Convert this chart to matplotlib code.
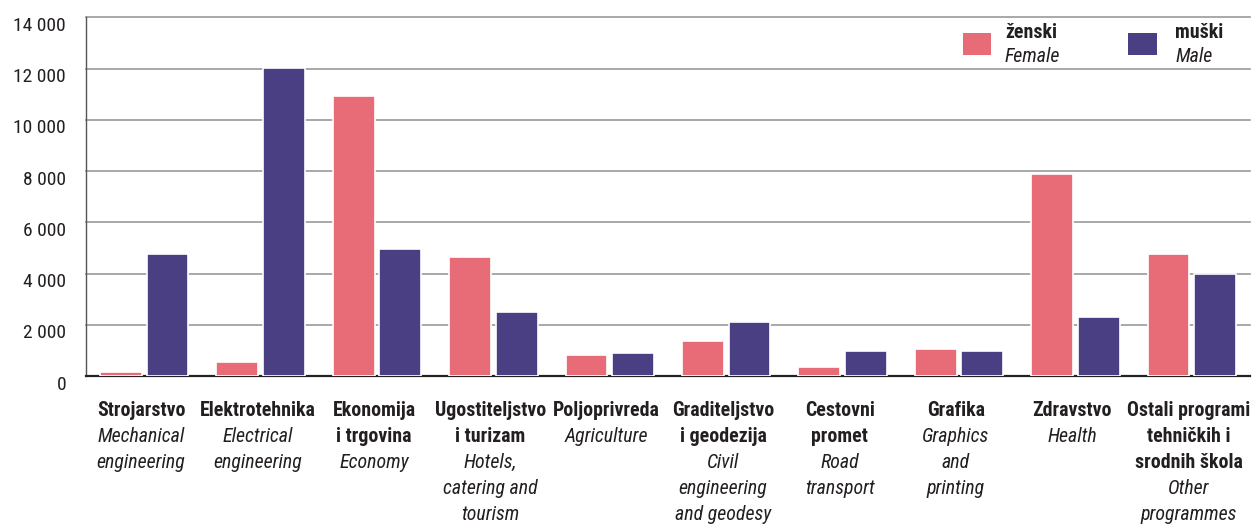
#!/usr/bin/env python3

import numpy as np
import matplotlib.pyplot as plt
import matplotlib.transforms as mtransforms
from matplotlib.patches import Rectangle

plt.rcParams["font.family"] = ["Roboto Condensed", "Roboto", "DejaVu Sans"]
plt.rcParams["font.stretch"] = "condensed"

# Učenici po programima / spolu
programi_hr = [
    "Strojarstvo",
    "Elektrotehnika",
    "Ekonomija\ni trgovina",
    "Ugostiteljstvo\ni turizam",
    "Poljoprivreda",
    "Graditeljstvo\ni geodezija",
    "Cestovni\npromet",
    "Grafika",
    "Zdravstvo",
    "Ostali programi\ntehničkih i\nsrodnih škola",
]
programi_en = [
    "Mechanical\nengineering",
    "Electrical\nengineering",
    "Economy",
    "Hotels,\ncatering and\ntourism",
    "Agriculture",
    "Civil\nengineering\nand geodesy",
    "Road\ntransport",
    "Graphics\nand\nprinting",
    "Health",
    "Other\nprogrammes",
]
zenski = [150, 560, 10950, 4630, 820, 1370, 350, 1050, 7890, 4780]
muski = [4760, 12040, 4950, 2500, 890, 2090, 980, 980, 2290, 3990]
y_ticks = [0, 2000, 4000, 6000, 8000, 10000, 12000, 14000]

PINK = "#E86C78"
PURPLE = "#4A3F82"
TXT = "#231F20"
W, H = 1253, 524
FS = 14.3


def px(x, y):
    """pixel (od gornjeg lijevog kuta) -> figure fraction"""
    return x / W, 1 - y / H


fig = plt.figure(figsize=(W / 100, H / 100), dpi=100)
ax = fig.add_axes([86 / W, 1 - 376 / H, 1164 / W, (376 - 17.5) / H])

x = np.arange(len(programi_hr))
ax.bar(x - 0.2, zenski, width=0.36, color=PINK, edgecolor="white", linewidth=1.2, zorder=3)
ax.bar(x + 0.2, muski, width=0.36, color=PURPLE, edgecolor="white", linewidth=1.2, zorder=3)

ax.set_xlim(-0.5, len(x) - 0.5)
ax.set_ylim(0, 14000)
ax.set_xticks([])
ax.set_yticks(y_ticks)
ax.set_yticklabels([f"{v:,}".replace(",", " ") for v in y_ticks])
ax.tick_params(axis="y", length=0, pad=14.4, labelsize=14, labelcolor=TXT)

ax.set_axisbelow(True)
ax.yaxis.grid(True, color="#9a9a9a", linewidth=1.2)
for line in ax.get_ygridlines():
    line.set_clip_on(False)

for side in ["top", "right"]:
    ax.spines[side].set_visible(False)
ax.spines["left"].set_color("#555555")
ax.spines["left"].set_linewidth(1.0)
ax.spines["bottom"].set_color("#222222")
ax.spines["bottom"].set_linewidth(1.6)

# oznake osi y malo niže od linija
shift = mtransforms.ScaledTranslation(0, -0.065, fig.dpi_scale_trans)
for lab in ax.get_yticklabels():
    lab.set_transform(lab.get_transform() + shift)

# nazivi programa: hrvatski podebljano, engleski kurziv
line_h = 26.0
for i in x:
    lines = [(t, "bold", "normal") for t in programi_hr[i].split("\n")]
    lines += [(t, "normal", "italic") for t in programi_en[i].split("\n")]
    for k, (t, weight, style) in enumerate(lines):
        ax.annotate(
            t,
            xy=(i, 0),
            xycoords=ax.get_xaxis_transform(),
            xytext=(-3, -39.5 - k * line_h),
            textcoords="offset pixels",
            ha="center",
            va="baseline",
            fontsize=FS,
            fontweight=weight,
            fontstyle=style,
            color=TXT,
            annotation_clip=False,
        )

# legenda
for (x0, x1), color, hr, en in [
    ((963, 991), PINK, "ženski", "Female"),
    ((1127.5, 1156.5), PURPLE, "muški", "Male"),
]:
    fx, fy = px(x0, 55)
    fig.add_artist(
        Rectangle((fx, fy), (x1 - x0) / W, 22 / H, transform=fig.transFigure,
                  facecolor=color, edgecolor="none")
    )
    tx = x1 + (14 if color == PINK else 19)
    fig.text(*px(tx, 38.5), hr, fontsize=FS, fontweight="bold", color=TXT, va="baseline")
    fig.text(*px(tx, 61.5), en, fontsize=FS, fontstyle="italic", color=TXT, va="baseline")

fig.savefig("out.png", dpi=100)
